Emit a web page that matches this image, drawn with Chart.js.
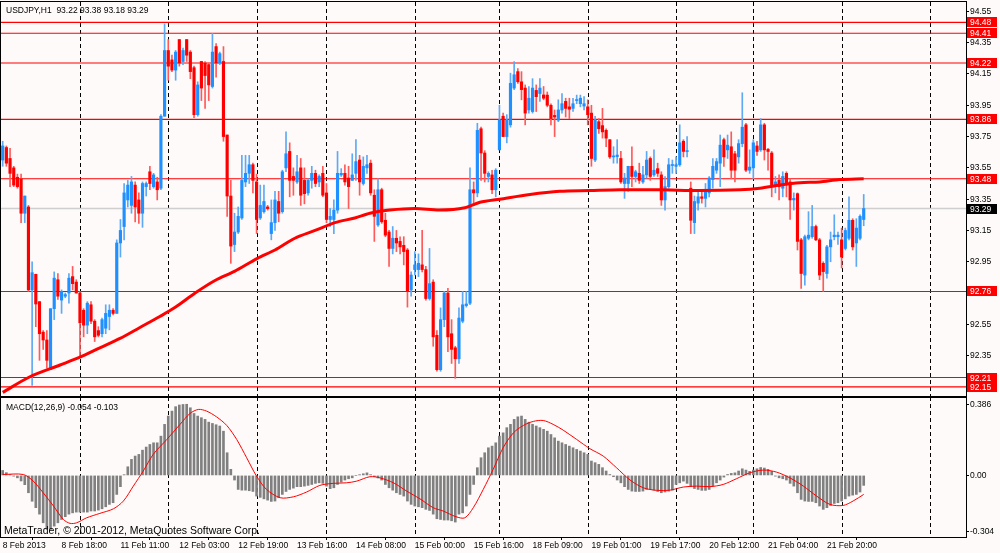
<!DOCTYPE html>
<html>
<head>
<meta charset="utf-8">
<title>USDJPY,H1</title>
<script src="https://cdn.jsdelivr.net/npm/chart.js@4.4.1/dist/chart.umd.min.js"></script>
<style>
  html, body { margin: 0; padding: 0; background: #fdfaf9; }
  #wrap { position: relative; width: 1000px; height: 553px; overflow: hidden; }
  canvas { position: absolute; left: 0; }
  #priceChart { top: 0; }
  #macdChart { top: 397px; }
</style>
</head>
<body>
<div id="wrap">
  <canvas id="priceChart" width="1000" height="397"></canvas>
  <canvas id="macdChart" width="1000" height="156"></canvas>
</div>
<script>
const FONT = "'Liberation Sans', Arial, sans-serif";

// hourly candles, bar 0 = 8 Feb 2013 02:00
const opens = [
  93.60, 93.68, 93.61, 93.55, 93.49, 93.48, 93.26, 93.30, 92.77, 92.87,
  92.695, 92.50, 92.45, 92.26, 92.65, 92.835, 92.705, 92.73, 92.75, 92.855,
  92.82, 92.75, 92.64, 92.545, 92.675, 92.57, 92.51, 92.49, 92.525, 92.60,
  92.64, 92.62, 93.07, 93.175, 93.345, 93.31, 93.44, 93.345, 93.26, 93.43,
  93.525, 93.43, 93.46, 93.42, 93.88, 94.30, 94.24, 94.175, 94.37, 94.23,
  94.37, 94.29, 94.19, 93.89, 94.23, 94.22, 94.21, 94.07, 94.325, 94.22,
  94.23, 93.76, 93.37, 93.06, 93.14, 93.23, 93.46, 93.515, 93.57, 93.46,
  93.23, 93.27, 93.30, 93.13, 93.20, 93.335, 93.27, 93.55, 93.655, 93.495,
  93.46, 93.55, 93.47, 93.39, 93.47, 93.515, 93.46, 93.515, 93.39, 93.22,
  93.22, 93.28, 93.505, 93.515, 93.485, 93.47, 93.515, 93.60, 93.45, 93.55,
  93.58, 93.375, 93.185, 93.41, 93.215, 93.14, 93.035, 93.10, 93.08, 93.055,
  93.025, 92.77, 92.90, 92.90, 92.93, 92.90, 92.715, 92.82, 92.48, 92.26,
  92.58, 92.75, 92.49, 92.40, 92.33, 92.57, 92.67, 92.685, 93.41, 93.39,
  93.80, 93.645, 93.495, 93.505, 93.41, 93.665, 93.88, 93.75, 93.825, 94.06,
  94.165, 94.10, 94.06, 93.92, 93.91, 94.045, 94.025, 94.016, 94.015, 93.95,
  93.885, 93.855, 93.92, 93.975, 93.94, 93.93, 93.98, 93.96, 93.945, 93.94,
  93.90, 93.60, 93.845, 93.82, 93.79, 93.73, 93.62, 93.622, 93.61, 93.45,
  93.45, 93.56, 93.495, 93.515, 93.46, 93.505, 93.61, 93.505, 93.545, 93.505,
  93.345, 93.43, 93.565, 93.56, 93.57, 93.72, 93.654, 93.42, 93.20, 93.325,
  93.365, 93.355, 93.39, 93.475, 93.535, 93.58, 93.73, 93.665, 93.685, 93.64,
  93.62, 93.705, 93.825, 93.535, 93.55, 93.69, 93.665, 93.825, 93.668, 93.645,
  93.44, 93.47, 93.42, 93.515, 93.46, 93.345, 93.385, 93.09, 92.865, 93.10,
  93.11, 93.175, 93.09, 92.94, 92.875, 93.045, 93.11, 93.11, 93.09, 93.035,
  93.10, 93.215, 93.07, 93.10, 93.22
];
const highs = [
  93.72, 93.69, 93.675, 93.56, 93.51, 93.51, 93.37, 93.31, 92.95, 92.87,
  92.695, 92.51, 92.51, 92.65, 92.885, 92.875, 92.77, 92.75, 92.875, 92.92,
  92.835, 92.76, 92.65, 92.695, 92.695, 92.58, 92.535, 92.59, 92.675, 92.675,
  92.65, 93.09, 93.22, 93.45, 93.47, 93.495, 93.46, 93.39, 93.46, 93.46,
  93.56, 93.515, 93.49, 93.89, 94.47, 94.37, 94.27, 94.30, 94.37, 94.315,
  94.37, 94.30, 94.20, 94.10, 94.23, 94.23, 94.22, 94.41, 94.345, 94.29,
  94.325, 93.76, 93.47, 93.26, 93.30, 93.63, 93.63, 93.63, 93.58, 93.51,
  93.44, 93.44, 93.31, 93.345, 93.40, 93.40, 93.535, 93.78, 93.71, 93.55,
  93.63, 93.61, 93.55, 93.48, 93.56, 93.535, 93.505, 93.56, 93.45, 93.29,
  93.345, 93.655, 93.545, 93.57, 93.56, 93.64, 93.73, 93.63, 93.62, 93.63,
  93.60, 93.41, 93.48, 93.42, 93.26, 93.15, 93.175, 93.15, 93.11, 93.11,
  93.035, 92.885, 93.015, 93.00, 93.15, 92.92, 93.035, 92.835, 92.51, 92.655,
  92.76, 92.78, 92.58, 92.41, 92.655, 92.76, 92.76, 93.55, 93.46, 93.835,
  93.81, 93.66, 93.525, 93.535, 93.545, 93.95, 93.90, 93.89, 94.155, 94.23,
  94.185, 94.165, 94.08, 94.07, 94.12, 94.08, 94.12, 94.07, 94.035, 93.96,
  93.92, 93.985, 94.025, 93.995, 93.995, 93.995, 94.015, 94.015, 94.005, 93.985,
  93.95, 93.88, 93.865, 93.93, 93.80, 93.73, 93.685, 93.73, 93.655, 93.515,
  93.56, 93.685, 93.535, 93.58, 93.56, 93.655, 93.62, 93.665, 93.58, 93.525,
  93.495, 93.61, 93.60, 93.62, 93.825, 93.73, 93.75, 93.46, 93.37, 93.40,
  93.40, 93.45, 93.495, 93.61, 93.61, 93.76, 93.74, 93.76, 93.78, 93.655,
  93.73, 94.03, 93.835, 93.665, 93.73, 93.72, 93.865, 93.835, 93.675, 93.655,
  93.495, 93.505, 93.525, 93.525, 93.48, 93.39, 93.39, 93.10, 93.12, 93.27,
  93.31, 93.185, 93.10, 92.95, 93.055, 93.14, 93.25, 93.14, 93.165, 93.165,
  93.365, 93.225, 93.225, 93.25, 93.38
];
const lows = [
  93.56, 93.56, 93.43, 93.43, 93.42, 93.20, 93.20, 92.76, 92.16, 92.535,
  92.32, 92.39, 92.27, 92.26, 92.58, 92.71, 92.62, 92.72, 92.685, 92.77,
  92.75, 92.34, 92.47, 92.49, 92.555, 92.44, 92.47, 92.47, 92.49, 92.515,
  92.61, 92.62, 92.98, 93.09, 93.30, 93.26, 93.205, 93.195, 93.17, 93.37,
  93.41, 93.42, 93.345, 93.41, 93.88, 94.11, 94.165, 94.11, 94.20, 94.21,
  94.23, 94.12, 93.87, 93.88, 93.98, 93.93, 93.98, 94.06, 94.13, 94.21,
  93.72, 93.24, 92.94, 93.015, 93.13, 93.22, 93.43, 93.45, 93.39, 93.13,
  93.22, 93.26, 93.28, 93.09, 93.15, 93.205, 93.26, 93.525, 93.365, 93.375,
  93.45, 93.31, 93.32, 93.375, 93.42, 93.43, 93.43, 93.366, 93.20, 93.175,
  93.13, 93.26, 93.495, 93.44, 93.29, 93.47, 93.47, 93.375, 93.44, 93.515,
  93.375, 93.08, 93.175, 93.195, 93.11, 92.92, 93.00, 93.015, 93.00, 92.93,
  92.66, 92.73, 92.865, 92.855, 92.885, 92.705, 92.705, 92.41, 92.25, 92.25,
  92.535, 92.375, 92.30, 92.205, 92.30, 92.56, 92.66, 92.675, 93.31, 93.365,
  93.47, 93.46, 93.46, 93.385, 93.365, 93.665, 93.75, 93.71, 93.81, 94.05,
  94.09, 93.985, 93.825, 93.90, 93.90, 93.91, 93.975, 93.985, 93.94, 93.825,
  93.75, 93.845, 93.90, 93.875, 93.865, 93.91, 93.96, 93.94, 93.92, 93.825,
  93.56, 93.59, 93.77, 93.74, 93.685, 93.61, 93.58, 93.58, 93.45, 93.355,
  93.40, 93.43, 93.46, 93.45, 93.45, 93.485, 93.47, 93.495, 93.495, 93.31,
  93.28, 93.42, 93.515, 93.515, 93.56, 93.62, 93.62, 93.13, 93.13, 93.28,
  93.325, 93.30, 93.365, 93.42, 93.515, 93.43, 93.56, 93.61, 93.48, 93.46,
  93.58, 93.685, 93.525, 93.515, 93.48, 93.63, 93.655, 93.60, 93.535, 93.365,
  93.39, 93.345, 93.365, 93.365, 93.22, 93.28, 93.025, 92.78, 92.80, 93.09,
  93.10, 93.085, 92.835, 92.76, 92.845, 92.95, 93.09, 93.06, 92.91, 93.025,
  93.09, 93.025, 92.92, 93.09, 93.18
];
const closes = [
  93.69, 93.58, 93.515, 93.44, 93.43, 93.26, 93.37, 92.77, 92.88, 92.68,
  92.49, 92.45, 92.32, 92.65, 92.845, 92.73, 92.76, 92.74, 92.845, 92.81,
  92.75, 92.56, 92.545, 92.685, 92.57, 92.47, 92.48, 92.58, 92.62, 92.64,
  92.62, 93.07, 93.15, 93.39, 93.44, 93.46, 93.30, 93.26, 93.45, 93.45,
  93.45, 93.505, 93.41, 93.88, 94.30, 94.20, 94.175, 94.29, 94.22, 94.30,
  94.27, 94.165, 93.89, 94.08, 94.06, 94.14, 94.08, 94.29, 94.22, 94.28,
  93.75, 93.37, 93.05, 93.14, 93.24, 93.47, 93.515, 93.57, 93.47, 93.22,
  93.31, 93.335, 93.29, 93.20, 93.345, 93.26, 93.525, 93.64, 93.47, 93.47,
  93.525, 93.375, 93.385, 93.47, 93.515, 93.45, 93.495, 93.375, 93.22, 93.24,
  93.28, 93.515, 93.515, 93.46, 93.43, 93.505, 93.59, 93.46, 93.56, 93.57,
  93.39, 93.24, 93.41, 93.205, 93.12, 93.035, 93.10, 93.07, 93.045, 93.015,
  92.76, 92.865, 92.93, 92.94, 92.90, 92.715, 92.81, 92.47, 92.26, 92.58,
  92.75, 92.47, 92.39, 92.33, 92.59, 92.675, 92.68, 93.41, 93.39, 93.79,
  93.645, 93.515, 93.515, 93.41, 93.535, 93.855, 93.75, 93.855, 94.09, 94.145,
  94.10, 94.05, 93.90, 93.995, 94.06, 94.005, 94.06, 93.995, 93.95, 93.865,
  93.875, 93.92, 93.96, 93.93, 93.925, 93.96, 93.985, 93.995, 93.96, 93.89,
  93.61, 93.855, 93.80, 93.78, 93.74, 93.62, 93.625, 93.632, 93.46, 93.485,
  93.56, 93.495, 93.525, 93.47, 93.505, 93.60, 93.495, 93.535, 93.515, 93.345,
  93.43, 93.57, 93.57, 93.57, 93.71, 93.655, 93.66, 93.215, 93.335, 93.365,
  93.355, 93.40, 93.485, 93.56, 93.59, 93.695, 93.62, 93.695, 93.535, 93.535,
  93.705, 93.81, 93.535, 93.555, 93.71, 93.655, 93.825, 93.665, 93.655, 93.44,
  93.46, 93.43, 93.495, 93.45, 93.345, 93.355, 93.08, 92.875, 93.11, 93.12,
  93.175, 93.09, 92.865, 92.887, 93.045, 93.09, 93.12, 93.12, 92.98, 93.15,
  93.215, 93.045, 93.165, 93.24, 93.29
];

// moving average, read at bar positions
const maBars = [0, 7.4, 15.6, 21, 26.4, 31.9, 37.3, 42.7, 47, 52.3, 57.7, 63.1, 69.1, 74, 79.4, 84.9, 90.3, 95.7, 99.8,
  105.2, 112, 118.8, 125.6, 129.7, 135.1, 143.3, 151.4, 159.6, 167.7, 178.6, 189.5, 200.4, 205.8, 211.2, 216.7, 222, 227.5, 234];
const maValues = [92.115, 92.215, 92.29, 92.34, 92.40, 92.46, 92.53, 92.60, 92.66, 92.75, 92.83, 92.89, 92.97, 93.025, 93.10,
  93.15, 93.20, 93.23, 93.26, 93.28, 93.29, 93.28, 93.295, 93.33, 93.35, 93.38, 93.40, 93.405, 93.41, 93.41, 93.405, 93.41,
  93.42, 93.44, 93.455, 93.46, 93.475, 93.48];

// MACD(12,26,9) main values per bar (histogram)
const macdMain = [
  0.027, 0.015, 0.005, -0.004, -0.013, -0.03, -0.05, -0.094, -0.14, -0.175,
  -0.21, -0.257, -0.29, -0.293, -0.275, -0.257, -0.239, -0.224, -0.21, -0.203,
  -0.199, -0.199, -0.199, -0.199, -0.193, -0.193, -0.188, -0.181, -0.17, -0.157,
  -0.148, -0.103, -0.061, 0.004, 0.047, 0.087, 0.105, 0.114, 0.137, 0.154,
  0.168, 0.177, 0.177, 0.213, 0.277, 0.322, 0.349, 0.373, 0.382, 0.385,
  0.386, 0.367, 0.336, 0.322, 0.313, 0.304, 0.289, 0.282, 0.275, 0.268,
  0.24, 0.123, 0.033, -0.025, -0.076, -0.08, -0.08, -0.083, -0.087, -0.112,
  -0.119, -0.127, -0.134, -0.141, -0.139, -0.121, -0.103, -0.087, -0.076, -0.069,
  -0.061, -0.061, -0.058, -0.054, -0.049, -0.043, -0.04, -0.043, -0.058, -0.072,
  -0.067, -0.049, -0.036, -0.025, -0.018, -0.013, 0.0, 0.004, 0.009, 0.014,
  0.004, -0.007, -0.014, -0.025, -0.049, -0.067, -0.08, -0.094, -0.103, -0.112,
  -0.139, -0.157, -0.166, -0.17, -0.175, -0.184, -0.19, -0.21, -0.235, -0.239,
  -0.242, -0.242, -0.246, -0.253, -0.21, -0.203, -0.166, -0.103, -0.049, 0.042,
  0.096, 0.123, 0.15, 0.159, 0.177, 0.213, 0.231, 0.259, 0.277, 0.304,
  0.318, 0.322, 0.304, 0.289, 0.277, 0.268, 0.259, 0.25, 0.24, 0.222,
  0.204, 0.186, 0.177, 0.168, 0.159, 0.15, 0.141, 0.132, 0.123, 0.114,
  0.078, 0.069, 0.06, 0.042, 0.024, 0.005, -0.007, -0.025, -0.04, -0.061,
  -0.076, -0.085, -0.087, -0.087, -0.085, -0.076, -0.076, -0.08, -0.087, -0.094,
  -0.09, -0.085, -0.08, -0.049, -0.04, -0.031, -0.043, -0.061, -0.071, -0.076,
  -0.081, -0.081, -0.076, -0.058, -0.04, -0.025, -0.009, 0.005, 0.011, 0.014,
  0.024, 0.036, 0.029, 0.022, 0.029, 0.036, 0.043, 0.04, 0.033, 0.022,
  -0.004, -0.013, -0.018, -0.025, -0.043, -0.058, -0.094, -0.13, -0.139, -0.141,
  -0.141, -0.148, -0.166, -0.184, -0.175, -0.163, -0.152, -0.148, -0.139, -0.127,
  -0.112, -0.107, -0.103, -0.09, -0.054
];

// MACD signal line, read at bar positions
const sigBars = [0, 5.6, 8.3, 11, 13.8, 16.5, 18.3, 20.1, 22.8, 26.4, 30.1, 32.8, 35.5, 38.2, 40.9, 44.6, 48.2, 50.9,
  53.2, 55.4, 58.1, 60.9, 63.6, 66.3, 69, 71.7, 75.4, 79, 82.6, 86.2, 89.8, 93.5, 96.2, 99.8, 102.5, 106.2, 109.8,
  113.4, 117, 119.7, 123.2, 125.6, 127.9, 130.6, 133.3, 136, 138.8, 141.5, 144.2, 146.9, 149.6, 152.3, 156, 159.6,
  163.2, 166.8, 170.5, 174.1, 177.7, 181.3, 185, 188.6, 192.2, 195.8, 199.4, 203, 206.7, 210.3, 213.9, 217.6, 221.2,
  224.8, 228.4, 231.1, 234];
const sigValues = [0.005, 0.005, -0.031, -0.094, -0.166, -0.239, -0.26, -0.257, -0.23, -0.206, -0.181, -0.139, -0.058,
  0.024, 0.114, 0.195, 0.277, 0.336, 0.358, 0.349, 0.318, 0.271, 0.195, 0.096, -0.004, -0.076, -0.121, -0.116, -0.09,
  -0.054, -0.043, -0.04, -0.031, -0.007, -0.013, -0.04, -0.085, -0.127, -0.175, -0.193, -0.224, -0.23, -0.175, -0.076,
  0.033, 0.15, 0.231, 0.271, 0.293, 0.298, 0.277, 0.246, 0.195, 0.145, 0.105, 0.042, -0.025, -0.067, -0.081, -0.08,
  -0.063, -0.058, -0.061, -0.049, -0.018, 0.014, 0.029, 0.018, -0.013, -0.058, -0.112, -0.157, -0.163, -0.139, -0.103];

const priceTicks = [94.55, 94.35, 94.15, 93.95, 93.75, 93.55, 93.35, 93.15, 92.95, 92.75, 92.55, 92.35];
const levelLines = [94.48, 94.41, 94.22, 93.86, 93.48, 92.76, 92.21, 92.15];
const bidPrice = 93.29;
const macdTicks = [0.386, 0, -0.304];
const macdTickLabels = ["0.386", "0.00", "-0.304"];
const timeTickBars = [0, 16, 32, 48, 64, 80, 96, 112, 128, 144, 160, 176, 192, 208, 224];
const timeTickLabels = ["8 Feb 2013", "8 Feb 18:00", "11 Feb 11:00", "12 Feb 03:00", "12 Feb 19:00", "13 Feb 16:00",
  "14 Feb 08:00", "15 Feb 00:00", "15 Feb 16:00", "18 Feb 09:00", "19 Feb 01:00", "19 Feb 17:00", "20 Feb 12:00",
  "21 Feb 04:00", "21 Feb 20:00"];
const separatorBars = [21, 45, 69, 88, 112, 135, 159, 183, 204, 228, 252];

const X_MIN = -0.46;
const X_MAX = 261.8;

const bullBody = "#1e90ff", bullWick = "#5ea9f4";
const bearBody = "#ff0000", bearWick = "#ff5a5a";

const isBull = closes.map((c, i) => c >= opens[i]);
const last = opens.length - 1;

function drawSeparators(chart, yFrom, yTo) {
  const { ctx, scales: { x } } = chart;
  ctx.save();
  ctx.strokeStyle = "#000";
  ctx.lineWidth = 1;
  ctx.setLineDash([4, 3]);
  separatorBars.forEach(b => {
    const px = Math.round(x.getPixelForValue(b)) + 0.5;
    ctx.beginPath();
    ctx.moveTo(px, yFrom);
    ctx.lineTo(px, yTo);
    ctx.stroke();
  });
  ctx.restore();
}

function drawFrame(chart) {
  const { ctx, chartArea: a } = chart;
  ctx.save();
  ctx.strokeStyle = "#000";
  ctx.lineWidth = 1;
  ctx.strokeRect(0.5, Math.round(a.top) - 0.5, Math.round(a.right), Math.round(a.bottom - a.top) + 1);
  ctx.restore();
}

const priceExtras = {
  id: "priceExtras",
  beforeDatasetsDraw(chart) {
    const { ctx, chartArea: a, scales: { y } } = chart;
    drawSeparators(chart, a.top, chart.height);
    ctx.save();
    ctx.lineWidth = 1.5;
    ctx.strokeStyle = "#cfcfcf";
    let py = y.getPixelForValue(bidPrice);
    ctx.beginPath(); ctx.moveTo(a.left, py); ctx.lineTo(a.right, py); ctx.stroke();
    ctx.lineWidth = 1.1;
    ctx.strokeStyle = "#ff0000";
    levelLines.forEach(v => {
      py = y.getPixelForValue(v);
      ctx.beginPath(); ctx.moveTo(a.left, py); ctx.lineTo(a.right, py); ctx.stroke();
    });
    ctx.restore();
  },
  afterDraw(chart) {
    const { ctx, chartArea: a, scales: { y } } = chart;
    drawFrame(chart);
    ctx.save();
    ctx.font = "8.5px " + FONT;
    ctx.textBaseline = "middle";
    const tag = (v, bg) => {
      const py = Math.round(y.getPixelForValue(v));
      ctx.fillStyle = bg;
      ctx.fillRect(a.right + 1, py - 5, 30, 10);
      ctx.fillStyle = "#fff";
      ctx.fillText(v.toFixed(2), a.right + 4, py + 0.5);
    };
    levelLines.forEach(v => tag(v, "#ff0000"));
    tag(bidPrice, "#000");

    ctx.fillStyle = "#000";
    ctx.textBaseline = "alphabetic";
    ctx.fillText("USDJPY,H1  " + [opens[last], highs[last], lows[last], closes[last]].map(v => v.toFixed(2)).join(" "), 6, 13);
    ctx.restore();
  }
};

const macdExtras = {
  id: "macdExtras",
  beforeDatasetsDraw(chart) {
    drawSeparators(chart, 0, chart.chartArea.bottom);
  },
  afterDraw(chart) {
    const { ctx } = chart;
    drawFrame(chart);
    ctx.save();
    ctx.fillStyle = "#000";
    ctx.font = "8.5px " + FONT;
    const sig = sigValues[sigValues.length - 1];
    ctx.fillText("MACD(12,26,9) " + macdMain[last].toFixed(3) + " " + sig.toFixed(3), 6, 13);
    ctx.font = "10.5px " + FONT;
    ctx.fillText("MetaTrader, \u00a9 2001-2012, MetaQuotes Software Corp.", 4, 137);
    ctx.restore();
  }
};

const tickFont = { family: FONT, size: 8.5 };

new Chart(document.getElementById("priceChart"), {
  type: "bar",
  data: {
    datasets: [
      {
        type: "line",
        data: maBars.map((b, i) => ({ x: b, y: maValues[i] })),
        borderColor: "#ff0000",
        borderWidth: 3,
        pointRadius: 0,
        tension: 0.3,
        order: 0
      },
      {
        data: opens.map((o, i) => ({ x: i, y: [o, closes[i]] })),
        backgroundColor: isBull.map(b => (b ? bullBody : bearBody)),
        barThickness: 2.5,
        minBarLength: 1,
        grouped: false,
        order: 1
      },
      {
        data: highs.map((h, i) => ({ x: i, y: [lows[i], h] })),
        backgroundColor: isBull.map(b => (b ? bullWick : bearWick)),
        barThickness: 1,
        grouped: false,
        order: 2
      }
    ]
  },
  options: {
    responsive: false,
    animation: false,
    devicePixelRatio: 1,
    layout: { padding: { left: 1, top: 2, right: 0, bottom: 1 } },
    plugins: { legend: { display: false }, tooltip: { enabled: false } },
    scales: {
      x: { type: "linear", min: X_MIN, max: X_MAX, offset: false, display: false },
      y: {
        position: "right",
        min: 92.092,
        max: 94.61,
        afterBuildTicks: s => { s.ticks = priceTicks.map(v => ({ value: v })); },
        afterFit: s => { s.width = 34; s.paddingTop = 0; s.paddingBottom = 0; },
        ticks: { color: "#000", font: tickFont, padding: 1, callback: v => v.toFixed(2) },
        grid: { drawOnChartArea: false, tickLength: 3, color: "#000" },
        border: { color: "#000" }
      }
    }
  },
  plugins: [priceExtras]
});

new Chart(document.getElementById("macdChart"), {
  type: "bar",
  data: {
    datasets: [
      {
        type: "line",
        data: sigBars.map((b, i) => ({ x: b, y: sigValues[i] })),
        borderColor: "#ff0000",
        borderWidth: 1,
        pointRadius: 0,
        tension: 0.3,
        order: 0
      },
      {
        data: macdMain.map((v, i) => ({ x: i, y: v })),
        backgroundColor: "#808080",
        barThickness: 2,
        order: 1
      }
    ]
  },
  options: {
    responsive: false,
    animation: false,
    devicePixelRatio: 1,
    layout: { padding: { left: 1, top: 1, right: 0, bottom: 0 } },
    plugins: { legend: { display: false }, tooltip: { enabled: false } },
    scales: {
      x: {
        type: "linear",
        min: X_MIN,
        max: X_MAX,
        offset: false,
        afterBuildTicks: s => { s.ticks = timeTickBars.map(v => ({ value: v })); },
        afterFit: s => { s.height = 16; s.paddingLeft = 0; s.paddingRight = 0; },
        ticks: {
          color: "#000", font: tickFont, padding: 1, align: "start",
          autoSkip: false, maxRotation: 0, minRotation: 0,
          callback: (v, i) => timeTickLabels[i]
        },
        grid: { drawOnChartArea: false, tickLength: 3, color: "#000" },
        border: { color: "#000" }
      },
      y: {
        position: "right",
        min: -0.334,
        max: 0.42,
        afterBuildTicks: s => { s.ticks = macdTicks.map(v => ({ value: v })); },
        afterFit: s => { s.width = 34; s.paddingTop = 0; s.paddingBottom = 0; },
        ticks: { color: "#000", font: tickFont, padding: 1, callback: (v, i) => macdTickLabels[i] },
        grid: { drawOnChartArea: false, tickLength: 3, color: "#000" },
        border: { color: "#000" }
      }
    }
  },
  plugins: [macdExtras]
});
</script>
</body>
</html>
